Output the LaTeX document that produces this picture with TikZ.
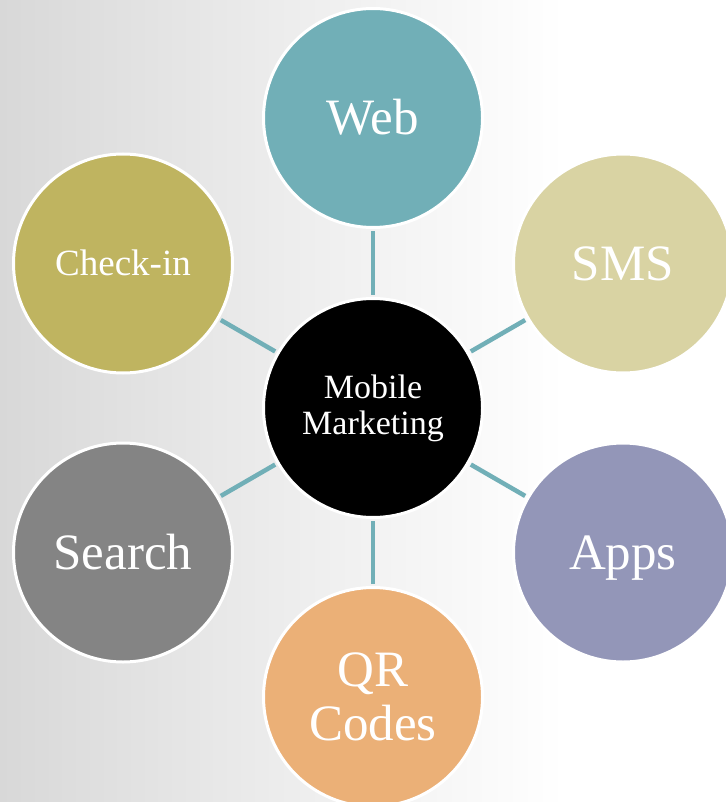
\documentclass[tikz,border=0pt]{standalone}
\usepackage{fontspec}
\setmainfont{Liberation Serif}
\definecolor{bgL}{HTML}{D8D8D8}
\definecolor{bgM}{HTML}{EBEBEB}
\definecolor{webC}{HTML}{71AFB7}
\definecolor{smsC}{HTML}{D9D3A3}
\definecolor{appsC}{HTML}{9396B8}
\definecolor{qrC}{HTML}{EBB077}
\definecolor{searchC}{HTML}{848484}
\definecolor{checkC}{HTML}{BFB460}
\definecolor{linkC}{HTML}{71AFB7}
\pgfdeclarehorizontalshading{bgshade}{100bp}{color(0bp)=(bgL); color(25bp)=(bgL); color(43bp)=(bgM); color(64bp)=(white); color(100bp)=(white)}
\tikzset{
  bubble/.style={circle, draw=white, line width=3pt, minimum size=219pt, inner sep=0pt,
    text=white, font=\fontsize{51}{54}\selectfont, align=center},
  capcentre/.style={text height=33.8pt, text depth=0pt},
  link/.style={draw=linkC, line width=4.5pt, shorten <=2pt, shorten >=2pt}
}
\begin{document}
\begin{tikzpicture}[x=1pt,y=-1pt]
  \useasboundingbox (0,0) rectangle (725,802);
  % soft grey wash on the left fading to white
  \shade[shading=bgshade] (0,0) rectangle (725,802);

  % hub
  \node[bubble, fill=black, font=\fontsize{34}{36}\selectfont] (hub) at (373,408) {Mobile\\Marketing};

  % satellites
  \node[bubble, capcentre, fill=webC]    (web)    at (373,118)   {Web};
  \node[bubble, capcentre, fill=smsC]    (sms)    at (623,263.5) {SMS};
  \node[bubble, capcentre, fill=appsC]   (apps)   at (623,552.5) {Apps};
  \node[bubble, fill=qrC]                (qr)     at (373,697)   {QR\\Codes};
  \node[bubble, capcentre, fill=searchC] (search) at (123,552.5) {Search};
  \node[bubble, fill=checkC, font=\fontsize{37}{40}\selectfont,
        text height=24.5pt, text depth=0pt] (check) at (123,263.5) {Check-in};

  % spokes
  \foreach \n in {web,sms,apps,qr,search,check}
    \draw[link] (\n) -- (hub);
\end{tikzpicture}
\end{document}
